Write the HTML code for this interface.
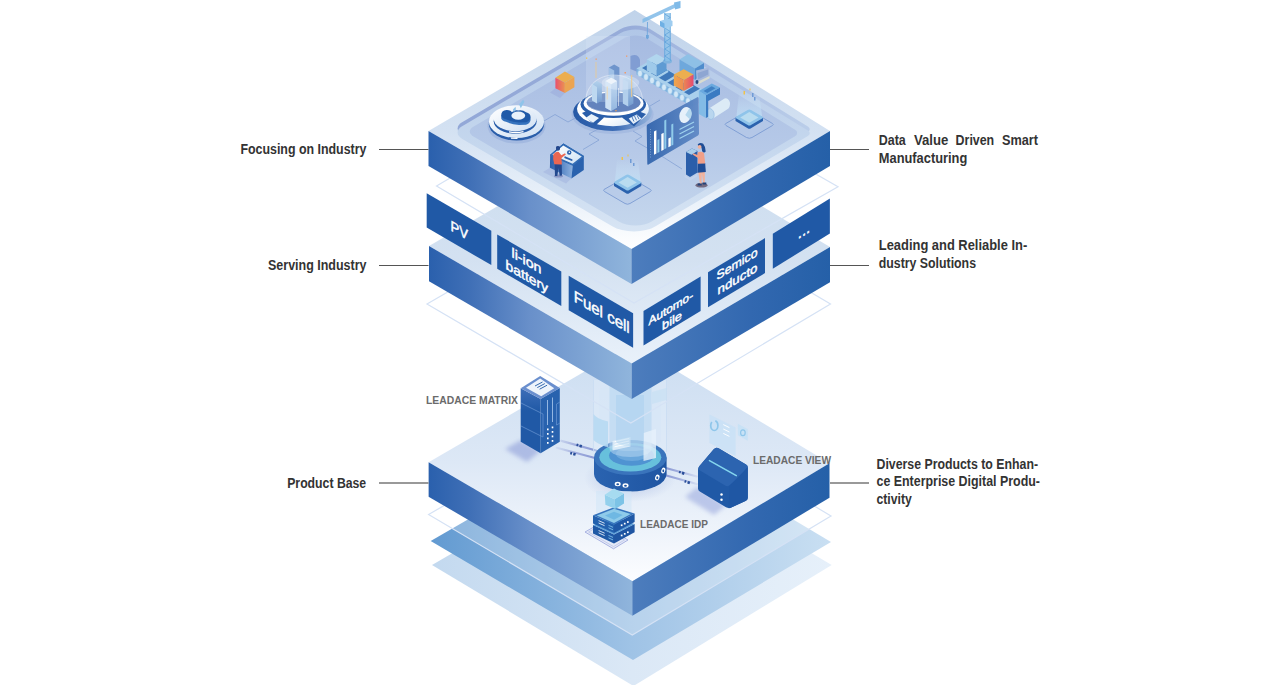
<!DOCTYPE html>
<html><head><meta charset="utf-8"><title>Industry Solutions</title>
<style>
html,body{margin:0;padding:0;background:#fff;}
body{width:1280px;height:685px;position:relative;overflow:hidden;font-family:"Liberation Sans",sans-serif;}
svg text{font-family:"Liberation Sans",sans-serif;font-weight:bold}
</style></head><body>
<svg width="1280" height="685" viewBox="0 0 1280 685" style="position:absolute;left:0;top:0">
<defs>
<linearGradient id="gL" x1="0" y1="0" x2="1" y2="0"><stop offset="0" stop-color="#2a60ad"/><stop offset=".2" stop-color="#3f6fb6"/><stop offset=".5" stop-color="#6990ca"/><stop offset="1" stop-color="#90b5dc"/></linearGradient>
<linearGradient id="gR" x1="0" y1="0" x2="1" y2="0"><stop offset="0" stop-color="#4d7dbd"/><stop offset=".6" stop-color="#3268b0"/><stop offset="1" stop-color="#2560a8"/></linearGradient>
<linearGradient id="gTop1" x1="0" y1="0" x2="0" y2="1"><stop offset="0" stop-color="#c0d3ea"/><stop offset=".5" stop-color="#d3e1f2"/><stop offset=".78" stop-color="#e8f0f9"/><stop offset="1" stop-color="#ffffff"/></linearGradient>
<linearGradient id="gLip" gradientUnits="userSpaceOnUse" x1="0" y1="25" x2="0" y2="235"><stop offset="0" stop-color="#b0c6e7"/><stop offset=".6" stop-color="#c6d8ee"/><stop offset="1" stop-color="#d8e5f4"/></linearGradient>
<linearGradient id="gBand" gradientUnits="userSpaceOnUse" x1="440" y1="0" x2="820" y2="0"><stop offset="0" stop-color="#92a7d7"/><stop offset=".5" stop-color="#97acd9"/><stop offset=".7" stop-color="#a9bde3"/><stop offset="1" stop-color="#bccfea"/></linearGradient>
<linearGradient id="gFloor" gradientUnits="userSpaceOnUse" x1="0" y1="35" x2="0" y2="228"><stop offset="0" stop-color="#a6bbe1"/><stop offset=".6" stop-color="#b6c9e8"/><stop offset="1" stop-color="#c5d7ed"/></linearGradient>
<linearGradient id="gMid" gradientUnits="userSpaceOnUse" x1="0" y1="190" x2="0" y2="364"><stop offset="0" stop-color="#cfdff0"/><stop offset=".4" stop-color="#d3e1f1"/><stop offset="1" stop-color="#e9f1fa"/></linearGradient>
<linearGradient id="gBase" x1="0" y1="0" x2="0" y2="1"><stop offset="0" stop-color="#cbddf1"/><stop offset=".5" stop-color="#dde8f6"/><stop offset=".8" stop-color="#eff4fb"/><stop offset="1" stop-color="#fcfdff"/></linearGradient>
<linearGradient id="gD1" x1="0" y1="0" x2="1" y2="0"><stop offset="0" stop-color="#629ad1"/><stop offset=".5" stop-color="#9fc3e6"/><stop offset="1" stop-color="#c9dff2"/></linearGradient>
<linearGradient id="gD2" x1="0" y1="0" x2="1" y2="0"><stop offset="0" stop-color="#c3d9ef"/><stop offset=".5" stop-color="#dbe8f6"/><stop offset="1" stop-color="#e6f0fa"/></linearGradient>
</defs>

<g id="stack">
<polygon points="432.0,565.0 634.0,448.0 831.7,565.0 633.5,686.0" fill="url(#gD2)"/>
<polygon points="430.7,541.0 633.0,424.0 831.0,542.0 633.0,660.0" fill="url(#gD1)"/>
<polygon points="428.6,514.5 632.0,397.0 831.0,516.0 632.3,635.0" fill="#ffffff" fill-opacity=".25" stroke="#d5e2f5" stroke-width="1.2"/>
</g>
<g id="base">
<polygon points="428.6,462.2 632.0,344.0 829.5,463.2 632.4,581.3" fill="url(#gBase)"/>
<polygon points="428.6,462.2 632.4,581.3 632.4,615.8 428.6,496.7" fill="url(#gL)"/><polygon points="632.4,581.3 829.5,463.2 829.5,497.7 632.4,615.8" fill="url(#gR)"/>
<defs>
<linearGradient id="twrL" x1="0" y1="0" x2="1" y2="0"><stop offset="0" stop-color="#245aa8"/><stop offset="1" stop-color="#2f66b2"/></linearGradient>
<linearGradient id="glass" x1="0" y1="0" x2="0" y2="1"><stop offset="0" stop-color="#bcd9f2" stop-opacity=".55"/><stop offset="1" stop-color="#cfe6f8" stop-opacity=".75"/></linearGradient>
<radialGradient id="shadow"><stop offset="0" stop-color="#8fa3d8" stop-opacity=".55"/><stop offset="1" stop-color="#8fa3d8" stop-opacity="0"/></radialGradient>
<linearGradient id="hubS" x1="0" y1="0" x2="1" y2="0"><stop offset="0" stop-color="#2a63b0"/><stop offset="1" stop-color="#1f55a2"/></linearGradient>
<filter id="blur2" x="-30%" y="-30%" width="160%" height="160%"><feGaussianBlur stdDeviation="2.2"/></filter>
<linearGradient id="twrF" x1="0" y1="0" x2="0" y2="1"><stop offset="0" stop-color="#3d6eb8"/><stop offset=".35" stop-color="#2059a6"/><stop offset="1" stop-color="#2059a6"/></linearGradient>
<linearGradient id="cab1" gradientUnits="userSpaceOnUse" x1="556" y1="0" x2="596" y2="0"><stop offset="0" stop-color="#9aa6dc" stop-opacity=".15"/><stop offset=".5" stop-color="#8b98d4" stop-opacity=".75"/><stop offset="1" stop-color="#7f8fd0" stop-opacity=".9"/></linearGradient><linearGradient id="cab2" gradientUnits="userSpaceOnUse" x1="664" y1="0" x2="697" y2="0"><stop offset="0" stop-color="#7f8fd0" stop-opacity=".9"/><stop offset=".5" stop-color="#8b98d4" stop-opacity=".7"/><stop offset="1" stop-color="#9aa6dc" stop-opacity=".2"/></linearGradient>
</defs>
<!-- shadows -->
<polygon points="521,440 540.5,451 527,462 505,449" fill="#8f9fd8" fill-opacity=".6" filter="url(#blur2)"/>
<ellipse cx="630" cy="478" rx="46" ry="24" fill="url(#shadow)"/>
<polygon points="697,487 726,505.5 714,515 685,497" fill="#98a6dc" fill-opacity=".55" filter="url(#blur2)"/>
<!-- cables -->
<g stroke-width="2.2" fill="none" stroke-linecap="round">
<line x1="561.3" y1="440.9" x2="596" y2="450.5" stroke="url(#cab1)"/><line x1="556.7" y1="447.8" x2="594" y2="457.8" stroke="url(#cab1)"/>
<line x1="664" y1="467.5" x2="697" y2="476.5" stroke="url(#cab2)"/><line x1="664.5" y1="475" x2="697" y2="484" stroke="url(#cab2)"/>
</g>
<g fill="#2a4f9a"><rect x="576.5" y="443.8" width="1.8" height="2.4" transform="rotate(15 577.5 445)"/><rect x="579.5" y="444.6" width="2.4" height="2.8" transform="rotate(15 580.5 446)"/><rect x="570.3" y="452" width="1.8" height="2.4" transform="rotate(15 571 453)"/><rect x="573.3" y="452.8" width="2.4" height="2.8" transform="rotate(15 574.5 454)"/><rect x="679" y="471" width="1.8" height="2.4" transform="rotate(15 680 472)"/><rect x="682" y="471.8" width="2.4" height="2.8" transform="rotate(15 683 473)"/><rect x="684.5" y="480.3" width="1.8" height="2.4" transform="rotate(15 685.5 481.5)"/><rect x="687.5" y="481.1" width="2.4" height="2.8" transform="rotate(15 688.5 482.5)"/></g>
<!-- tower -->
<g id="tower">
<polygon points="520.7,388.3 540.6,399 540.6,453.2 520.7,441.7" fill="url(#twrF)"/>
<polygon points="540.6,399 559.8,388 559.8,441.7 540.6,453.2" fill="#2862ae"/>
<polygon points="540.2,376 559.8,388 540.6,399 520.7,388.3" fill="#6a8fce"/>
<polygon points="540.2,378.6 554.2,388.2 541.2,396.3 526,387.7" fill="#eef4fb"/>
<g stroke="#2059a6" stroke-width=".9"><line x1="535" y1="386" x2="542.5" y2="382"/><line x1="537.3" y1="387.6" x2="544.8" y2="383.6"/><line x1="539.6" y1="389.2" x2="547.1" y2="385.2"/></g>
<polyline points="521,403 543,414 543,437 521,426" fill="none" stroke="#6a96d2" stroke-width=".7"/>
<g stroke="#9fc0e8" stroke-width=".9"><line x1="547.5" y1="400" x2="547.5" y2="425"/><line x1="552.5" y1="397.5" x2="552.5" y2="422"/></g>
<polyline points="560,402 556.5,404 556.5,425 560,423" fill="none" stroke="#6a96d2" stroke-width=".7"/>
<g fill="#ffffff"><rect x="547" y="428.5" width="1.6" height="1.8"/><rect x="547" y="433" width="1.6" height="1.8"/><rect x="547" y="437.5" width="1.6" height="1.8"/><rect x="547" y="442" width="1.6" height="1.8"/><rect x="551.7" y="426.5" width="1.6" height="1.8"/><rect x="551.7" y="431" width="1.6" height="1.8"/><rect x="551.7" y="435.5" width="1.6" height="1.8"/><rect x="551.7" y="440" width="1.6" height="1.8"/></g>
</g>
<!-- hub -->
<g id="bhub">
<path d="M593.5 380 L593.5 452 A36.5 14 0 0 0 666.5 452 L666.5 380 Z" fill="#e3eefa" fill-opacity=".42"/>
<path d="M593.5 380 L593.5 452 M666.5 380 L666.5 452" stroke="#c9dcf2" stroke-width=".8" fill="none"/>
<path d="M594 457.5 L594 474 A36.3 17.5 0 0 0 666.6 474 L666.6 457.5 Z" fill="url(#hubS)"/>
<ellipse cx="630.3" cy="457.5" rx="36.3" ry="17.5" fill="#3a74bc"/>
<ellipse cx="630.3" cy="457.2" rx="31" ry="14.3" fill="#67c0dc"/>
<ellipse cx="631.5" cy="455.5" rx="22.5" ry="10.3" fill="#4f93d2"/>
<ellipse cx="632" cy="454" rx="16" ry="7" fill="#6aa7dc"/>
<g fill="#fff"><ellipse cx="617.7" cy="484" rx="3" ry="2.2"/><ellipse cx="625.5" cy="485.5" rx="3" ry="2.2"/><ellipse cx="657.3" cy="477.5" rx="2.1" ry="3" transform="rotate(20 657.3 477.5)"/><ellipse cx="663.3" cy="470.5" rx="1.9" ry="3" transform="rotate(20 663.3 470.5)"/></g>
<g fill="#1f55a2"><ellipse cx="617.7" cy="484.2" rx="1.4" ry="1"/><ellipse cx="625.5" cy="485.7" rx="1.4" ry="1"/><ellipse cx="657.3" cy="477.7" rx="1" ry="1.5"/><ellipse cx="663.3" cy="470.7" rx=".9" ry="1.5"/></g>
<!-- glass column inner -->
<path d="M599 392 A31 9 0 0 1 661 392 L661 440 A31 11 0 0 1 599 440 Z" fill="#d3e6f7" fill-opacity=".35"/>
<path d="M609.5 380 L609.5 449 A21 8 0 0 0 651.5 449 L651.5 380 Z" fill="#b5d5f0" fill-opacity=".55"/>
<path d="M593.5 414 A36.5 12 0 0 0 608 421.5 L608 447 A36.5 14 0 0 1 593.5 440 Z" fill="#b4d8f2" fill-opacity=".85"/>
<path d="M643.5 433 L656 429 L656 458 L643.5 461 Z" fill="#e6f1fb" fill-opacity=".8"/>
<path d="M652 392 L666.5 388 L666.5 400 L652 404 Z" fill="#c5dff4" fill-opacity=".6"/>
<path d="M612.5 441 L630.5 437 L630.5 446.5 L612.5 450.5 Z" fill="#e6f2fb" fill-opacity=".8"/>
<g stroke="#ffffff" stroke-width="1" stroke-opacity=".9"><line x1="614.5" y1="441.8" x2="629" y2="438.5"/><line x1="614.5" y1="444.3" x2="629" y2="441"/><line x1="614.5" y1="446.8" x2="629" y2="443.5"/></g>
<path d="M616 395 L616 441 A14 5 0 0 0 644 441 L644 395 Z" fill="#a3cdee" fill-opacity=".4"/>
</g>
<!-- view box -->
<g id="view">
<polygon points="709.5,414.6 735.6,427.6 735.6,456 709.5,443" fill="#c3e0f6" fill-opacity=".6"/>
<polygon points="737.9,423.8 747.8,429.2 747.8,440.7 737.9,435.3" fill="#c3e0f6" fill-opacity=".75"/>
<ellipse cx="742.9" cy="432.7" rx="2.3" ry="2.9" fill="none" stroke="#8fc6ea" stroke-width="1.2"/>
<ellipse cx="714.3" cy="425.5" rx="3.6" ry="5" fill="none" stroke="#8fc6ea" stroke-width="1.7" stroke-dasharray="17 4"/>
<g stroke="#ffffff" stroke-width="1" stroke-opacity=".9"><line x1="723.3" y1="424.6" x2="729.4" y2="427.6"/><line x1="723.3" y1="429" x2="729.4" y2="432"/><line x1="723.3" y1="433.4" x2="729.4" y2="436.4"/></g>
<path d="M699.5 466 Q698 467.6 698 470 L698 488.5 Q698 490.5 699.8 491.5 L726 507.3 Q728.7 508.8 731.3 507.5 L746 500.7 Q747.8 499.7 747.8 497.7 L747.8 467.5 Q747.8 465.5 746 464.5 L719 448.5 Q716 446.7 713.7 449.3 Z" fill="#2059a6"/>
<path d="M699.5 466 L713.7 449.3 Q716 446.7 719 448.5 L746 464.5 Q747.6 465.4 747.8 467 Q738 478 729.5 485.5 Q727.5 486.8 725.5 485.8 L698.3 469.5 Q698.5 467.3 699.5 466 Z" fill="#2c64b0"/>
<path d="M729.5 485.5 Q738 478 747.8 467 L747.8 497.7 Q747.8 499.7 746 500.7 L731.3 507.5 Q729.8 508.3 728.7 508.2 Z" fill="#1f57a4"/>
<line x1="709.5" y1="460.6" x2="736.3" y2="475.6" stroke="#84d6ee" stroke-width="1.6" stroke-linecap="round"/>
<circle cx="721.5" cy="494.6" r="1.250" fill="#fff"/><circle cx="721.5" cy="499.7" r="1.250" fill="#fff"/>
</g>
<!-- IDP -->
<g id="idp">
<polygon points="585,532 600,523.5 628,540 613.5,548.8" fill="#e4e9f7" stroke="#98a3dc" stroke-width=".8" stroke-linejoin="round"/>
<polygon points="588.5,532 600,525.5 624.5,540 613.5,546.6" fill="none" stroke="#aeb7e3" stroke-width=".6"/>
<rect x="596" y="491" width="35.5" height="22" fill="#cfe6f8" fill-opacity=".5"/>
<polygon points="593,525 614,534.5 614,543.4 593,533.5" fill="#2059a6"/>
<polygon points="614,534.5 634.6,524 634.6,532.2 614,543.4" fill="#1f55a2"/>
<polygon points="614,517 593,525 614,534.5 634.6,524" fill="#5fa0d8"/>
<polygon points="593,515.3 614,524.6 614,532.9 593,523.4" fill="#2361ae"/>
<polygon points="614,524.6 634.6,513.6 634.6,522 614,532.9" fill="#1f58a6"/>
<polygon points="614,507.2 593,515.3 614,524.6 634.6,513.6" fill="#3674bd"/>
<polygon points="614,508.8 596.8,515.4 614,522.9 630.8,514" fill="#8fcbea"/>
<polygon points="614,511.8 605,515.6 614,519.8 622.8,515" fill="#6fb8e3"/>
<polygon points="604.8,494.8 614.5,499.2 615.4,509 605.4,504.7" fill="#93d0ec"/>
<polygon points="614.5,499.2 624,493.6 624,503.5 615.4,509" fill="#7cc3e6"/>
<polygon points="614,488.6 624,493.6 614.5,499.2 604.8,494.8" fill="#a6dbf0"/>
<g stroke="#ffffff" stroke-width=".9" stroke-opacity=".9"><line x1="598.6" y1="520.6" x2="604.6" y2="523.3"/><line x1="598.6" y1="523" x2="604.6" y2="525.7"/><line x1="598.6" y1="530.5" x2="604.6" y2="533.2"/><line x1="598.6" y1="532.9" x2="604.6" y2="535.6"/></g>
<g stroke="#7fbde8" stroke-width=".9"><line x1="608.5" y1="525.3" x2="613" y2="527.3"/><line x1="608.5" y1="527.8" x2="613" y2="529.8"/><line x1="608.5" y1="535.4" x2="613" y2="537.4"/><line x1="608.5" y1="537.9" x2="613" y2="539.9"/></g>
<g fill="#fff"><rect x="620.8" y="524.4" width="1.7" height="1.7"/><rect x="623.9" y="522.8" width="1.7" height="1.7"/><rect x="627" y="521.2" width="1.7" height="1.7"/><rect x="620.8" y="534.6" width="1.7" height="1.7"/><rect x="623.9" y="533" width="1.7" height="1.7"/><rect x="627" y="531.4" width="1.7" height="1.7"/></g>
</g>

</g>
<polygon points="427.0,304.0 631.0,186.0 830.5,304.0 630.8,423.0" fill="none" stroke="#d5e2f5" stroke-width="1.2"/>
<g id="mid">
<polygon points="429.0,246.0 632.0,128.0 830.0,247.0 631.7,363.6" fill="url(#gMid)"/>
<polygon points="429.0,246.0 631.7,363.6 631.7,398.9 429.0,281.3" fill="url(#gL)"/><polygon points="631.7,363.6 830.0,247.0 830.0,282.3 631.7,398.9" fill="url(#gR)"/>
<polygon points="426.7,193.3 491.3,230.8 491.3,265.1 426.7,227.6" fill="#2059a6"/>
<polygon points="497.2,234.4 561.3,271.6 561.3,305.9 497.2,268.7" fill="#2059a6"/>
<polygon points="568.7,275.7 633.1,313.2 633.1,347.8 568.7,310.3" fill="#2059a6"/>
<polygon points="643.5,311.0 700.6,276.4 700.6,311.0 643.5,345.6" fill="#2059a6"/>
<polygon points="708.0,272.3 765.0,238.1 765.0,273.1 708.0,307.3" fill="#2059a6"/>
<polygon points="772.8,233.7 829.9,198.5 829.9,233.5 772.8,268.7" fill="#2059a6"/>
<g id="ptxt" fill="#ffffff" stroke="#ffffff" stroke-width=".45" text-anchor="middle" style="font-weight:normal">
<text transform="matrix(1,.58,0,1,459.3,235.3)" font-size="14.5" style="font-weight:normal" textLength="17.5" lengthAdjust="spacingAndGlyphs">PV</text>
<text transform="matrix(1,.58,0,1,526.5,265.5)" font-size="13.5" style="font-weight:normal" textLength="30" lengthAdjust="spacingAndGlyphs">li-ion</text>
<text transform="matrix(1,.58,0,1,526.8,281)" font-size="13.5" style="font-weight:normal" textLength="42.5" lengthAdjust="spacingAndGlyphs">battery</text>
<text transform="matrix(1,.58,0,1,601.7,317.5)" font-size="16" style="font-weight:normal" textLength="56" lengthAdjust="spacingAndGlyphs">Fuel cell</text>
<text transform="matrix(1,-.605,0,1,670.8,312)" font-size="11.5" style="font-weight:normal" textLength="44.5" lengthAdjust="spacingAndGlyphs">Automo-</text>
<text transform="matrix(1,-.605,0,1,672,324.5)" font-size="11.5" style="font-weight:normal" textLength="20" lengthAdjust="spacingAndGlyphs">bile</text>
<text transform="matrix(1,-.605,0,1,737,268)" font-size="12.5" style="font-weight:normal" textLength="41" lengthAdjust="spacingAndGlyphs">Semico</text>
<text transform="matrix(1,-.605,0,1,737.5,283)" font-size="12.5" style="font-weight:normal" textLength="40" lengthAdjust="spacingAndGlyphs">nducto</text>
<text transform="matrix(1,-.605,0,1,804,235.5)" font-size="15" style="font-weight:normal" textLength="12.5" lengthAdjust="spacingAndGlyphs">...</text>
</g>

</g>
<polygon points="436.5,186.0 634.0,70.0 838.0,186.7 634.0,303.0" fill="none" stroke="#d5e2f5" stroke-width="1.2"/>
<g id="top">
<polygon points="428.5,131.0 634.7,10.0 830.0,131.0 631.5,249.0" fill="url(#gTop1)"/>
<polygon points="428.5,131.0 631.5,249.0 631.5,284.0 428.5,166.0" fill="url(#gL)"/><polygon points="631.5,249.0 830.0,131.0 830.0,166.0 631.5,284.0" fill="url(#gR)"/>
<polygon points="620.7,29.1 623.9,27.5 627.5,26.4 631.4,25.7 635.5,25.4 639.5,25.7 643.4,26.4 646.9,27.5 650.0,29.1 807.9,126.6 808.7,127.2 809.2,127.8 809.6,128.5 809.7,129.2 809.6,130.0 809.2,130.7 808.6,131.3 807.9,131.9 656.0,222.1 651.3,224.4 645.9,226.1 640.1,227.1 634.0,227.5 627.9,227.1 622.0,226.1 616.6,224.4 611.8,222.1 461.9,134.7 460.1,133.3 458.7,131.8 457.9,130.2 457.6,128.5 457.9,126.8 458.8,125.1 460.2,123.6 462.1,122.2" fill="url(#gBand)"/>
<polygon points="620.7,33.1 623.9,31.5 627.5,30.4 631.4,29.7 635.5,29.4 639.5,29.7 643.4,30.4 646.9,31.5 650.0,33.1 807.9,130.6 808.7,131.2 809.2,131.8 809.6,132.5 809.7,133.2 809.6,134.0 809.2,134.7 808.6,135.3 807.9,135.9 656.0,226.1 651.3,228.4 645.9,230.1 640.1,231.1 634.0,231.5 627.9,231.1 622.0,230.1 616.6,228.4 611.8,226.1 461.9,138.7 460.1,137.3 458.7,135.8 457.9,134.2 457.6,132.5 457.9,130.8 458.8,129.1 460.2,127.6 462.1,126.2" fill="url(#gLip)"/>
<polygon points="623.7,38.4 626.2,37.2 629.1,36.2 632.2,35.7 635.4,35.5 638.6,35.7 641.7,36.2 644.5,37.2 647.0,38.4 794.7,129.4 795.7,130.2 796.5,131.1 797.0,132.1 797.1,133.0 796.9,134.0 796.5,135.0 795.7,135.8 794.6,136.6 651.7,221.5 648.2,223.2 644.2,224.4 639.9,225.2 635.3,225.5 630.8,225.2 626.4,224.4 622.4,223.2 618.8,221.5 473.1,136.3 471.7,135.3 470.7,134.1 470.0,132.9 469.8,131.6 470.1,130.2 470.7,129.0 471.8,127.8 473.3,126.8" fill="url(#gFloor)"/>
<defs>
<linearGradient id="oL" x1="0" y1="0" x2="1" y2="0"><stop offset="0" stop-color="#e8506e"/><stop offset="1" stop-color="#eb9350"/></linearGradient>
<linearGradient id="oR" x1="0" y1="0" x2="1" y2="0"><stop offset="0" stop-color="#eb9a4e"/><stop offset="1" stop-color="#e9605f"/></linearGradient>
<linearGradient id="hubBase" x1="0" y1="0" x2="1" y2="0"><stop offset="0" stop-color="#2659a6"/><stop offset=".55" stop-color="#3d6db6"/><stop offset="1" stop-color="#9ab7de"/></linearGradient>
<linearGradient id="tw" x1="0" y1="0" x2="0" y2="1"><stop offset="0" stop-color="#c3daf2"/><stop offset="1" stop-color="#84abdb"/></linearGradient>
<linearGradient id="tw2" x1="0" y1="0" x2="0" y2="1"><stop offset="0" stop-color="#a9cbea"/><stop offset="1" stop-color="#5f8cc8"/></linearGradient>
<linearGradient id="dash" x1="0" y1="0" x2="1" y2="0"><stop offset="0" stop-color="#2f62ab"/><stop offset="1" stop-color="#5e88c5"/></linearGradient>
<linearGradient id="discT" x1="0" y1="0" x2="1" y2="1"><stop offset="0" stop-color="#ffffff"/><stop offset="1" stop-color="#cfe0f3"/></linearGradient>
<linearGradient id="beam" x1="0" y1="0" x2="0" y2="1"><stop offset="0" stop-color="#d6ebfa" stop-opacity="0"/><stop offset="1" stop-color="#bfe0f6" stop-opacity=".85"/></linearGradient>
<linearGradient id="ringW" x1="0" y1="0" x2="1" y2="1"><stop offset="0" stop-color="#ffffff"/><stop offset=".6" stop-color="#ffffff"/><stop offset="1" stop-color="#c6dbf1"/></linearGradient>
<linearGradient id="oC1" x1="0" y1="0" x2="1" y2="0"><stop offset="0" stop-color="#eea64c"/><stop offset="1" stop-color="#ee8c52"/></linearGradient><linearGradient id="oC2" x1="0" y1="0" x2="1" y2="0"><stop offset="0" stop-color="#ec8654"/><stop offset="1" stop-color="#e44a70"/></linearGradient>
<linearGradient id="deskF" x1="0" y1="0" x2="1" y2="0"><stop offset="0" stop-color="#2a5eaa"/><stop offset=".4" stop-color="#4a7bbf"/><stop offset="1" stop-color="#8fb2df"/></linearGradient><linearGradient id="deskS" x1="0" y1="0" x2="1" y2="1"><stop offset="0" stop-color="#ffffff"/><stop offset="1" stop-color="#cfe2f4"/></linearGradient>
</defs>
<!-- circuit lines -->
<g fill="none" stroke="#7f9dd2" stroke-width=".8" stroke-opacity=".9">
<path d="M544 121 L555 114.5 L568 122 L581 115"/>
<path d="M598 129 L589 134 L599 140 L583 149.5"/>
<path d="M633 131 L642 136.5 L635 141 L663 157 L682 169"/>
<path d="M660 100 L645 109 L640 106"/>
</g>
<!-- chip pads -->
<g id="chipC">
<path d="M604 189.5 Q603 190.5 604.5 191.5 L625 203.5 Q627.6 205 630 203.5 L650.5 191.5 Q652 190.5 650.5 189.5 L630 177.5 Q627.6 176 625 177.5 Z" fill="#b4c8e8" fill-opacity=".5" stroke="#7b9bd3" stroke-width=".9"/>
<polygon points="617,159 638,159 640.5,181 615,181" fill="url(#beam)" opacity=".8"/>
<path d="M614 182.5 L614 186 L626 193.2 Q627.6 194.2 629.2 193.2 L641.3 186 L641.3 182.5 Z" fill="#2a62ae"/>
<path d="M614.5 181.7 Q613.3 182.4 614.5 183.2 L626 190 Q627.6 191 629.2 190 L640.8 183.2 Q642 182.4 640.8 181.7 L629.2 174.9 Q627.6 174 626 174.9 Z" fill="#8fc4ea"/>
<path d="M618.5 182.4 L627.6 187.7 L636.8 182.4 L627.6 177.1 Z" fill="#b9dcf0"/>
<rect x="621.5" y="157" width="1.5" height="3" fill="#f0c24a"/><rect x="627.5" y="154.5" width="1" height="2" fill="#f0c24a"/><rect x="630" y="159" width="1.5" height="4" fill="#6f9bd6"/><rect x="633" y="163" width="1.5" height="3" fill="#6f9bd6"/>
</g>
<g id="chipR">
<path d="M725.5 123.7 Q724.5 124.5 726 125.5 L746.5 137.5 Q749.5 139 752 137.5 L772.5 125.5 Q774 124.5 772.5 123.5 L752 111.5 Q749.5 110 746.5 111.5 Z" fill="#b4c8e8" fill-opacity=".5" stroke="#7b9bd3" stroke-width=".9"/>
<polygon points="739,93 759,93 762,116 736.5,116" fill="url(#beam)" opacity=".8"/>
<path d="M735.5 117.5 L735.5 121 L747.7 128.2 Q749.3 129.2 751 128.2 L763 121 L763 117.5 Z" fill="#2a62ae"/>
<path d="M736 116.7 Q734.8 117.4 736 118.2 L747.7 125 Q749.3 126 751 125 L762.6 118.2 Q763.8 117.4 762.6 116.7 L751 109.9 Q749.3 109 747.7 109.9 Z" fill="#8fc4ea"/>
<path d="M740.2 117.4 L749.3 122.7 L758.5 117.4 L749.3 112.1 Z" fill="#b9dcf0"/>
<rect x="743.5" y="91" width="1.5" height="3.5" fill="#f0c24a"/><rect x="749.5" y="88.5" width="1" height="2" fill="#f0c24a"/><rect x="752" y="93" width="1.5" height="4" fill="#6f9bd6"/><rect x="754" y="97" width="1.5" height="3.5" fill="#6f9bd6"/>
</g>
<!-- cloud disc -->
<g id="cloud">
<ellipse cx="516.5" cy="126" rx="29" ry="17.5" fill="#8da6d6" fill-opacity=".45"/>
<ellipse cx="516.5" cy="124.3" rx="27.6" ry="16.3" fill="#2a5eaa"/>
<ellipse cx="516.5" cy="121.6" rx="27.6" ry="16.3" fill="url(#discT)"/>
<ellipse cx="515.2" cy="121.2" rx="21.5" ry="12.6" fill="#2a5eaa"/>
<ellipse cx="515.2" cy="118.6" rx="21.5" ry="12.6" fill="url(#discT)"/>
<path d="M501.2 118.2 Q501 113 506.5 112.5 Q510.5 112.3 512 114.8 Q514 112 518.5 113 Q523 112.3 526 114.8 Q530.8 116 530.6 120 Q530 123.5 526 124.8 L519 125 Q512 124.5 506 121.8 Q501.5 120.5 501.2 118.2 Z" fill="#3573be"/>
<path d="M501.2 115.7 Q501 110.5 506.5 110 Q510.5 109.8 512 112.3 Q514 109.5 518.5 110.5 Q523 109.8 526 112.3 Q530.8 113.5 530.6 117.5 Q530 121 526 122.3 L519 122.5 Q512 122 506 119.3 Q501.5 118 501.2 115.7 Z" fill="#1f5aa8"/>
<ellipse cx="518.3" cy="115.7" rx="6.9" ry="4.1" fill="#e8f2fb"/>
<polygon points="519.1,104.3 523.2,99.4 524.4,101.8 520.8,108.3" fill="#8fc4ea"/><polygon points="513,109.6 515.5,106.7 515.9,109.2 513.8,112.4" fill="#8fc4ea"/>
<path d="M509 131.8 Q516 133.3 523.5 131.6" fill="none" stroke="#fff" stroke-width="1.3"/>
<path d="M511 138.2 L517.5 138.4" fill="none" stroke="#fff" stroke-width="1.2"/>
</g>
<!-- orange cube left -->
<g id="cube1">
<polygon points="555.4,88.2 564.9,93 560,98 550,92.5" fill="#8f9fd8" fill-opacity=".35"/>
<polygon points="564.9,71.6 574.4,77 564.9,82.4 555.4,77.7" fill="#ecae4f"/>
<polygon points="555.4,77.7 564.9,82.4 564.9,93 555.4,88.2" fill="url(#oL)"/>
<polygon points="564.9,82.4 574.4,77 574.4,87.2 564.9,93" fill="#eba452"/>
</g>
<!-- center hub -->
<g id="hub">
<ellipse cx="612.6" cy="114.5" rx="41" ry="19.5" fill="#8da6d6" fill-opacity=".35"/>
<ellipse cx="612.6" cy="112" rx="39.5" ry="18.9" fill="url(#hubBase)"/>
<ellipse cx="613" cy="108.7" rx="36" ry="17.5" fill="url(#ringW)"/>
<polygon points="582,113 591,109 604,117.5 595,126" fill="#2a5eaa"/><polygon points="622,117.5 634,109.5 646,114 634,126.5" fill="#2a5eaa"/>
<ellipse cx="613.3" cy="104.5" rx="32.8" ry="13.5" fill="#2a5eaa"/>
<ellipse cx="613.6" cy="103.4" rx="30" ry="12.3" fill="#ffffff"/>
<ellipse cx="613.6" cy="102.6" rx="27" ry="10" fill="#4a6eb2"/>
<polygon points="585.5,118 591.4,114 599,118 593.1,122.7" fill="#e8f1fa"/><polygon points="628.7,118.6 636.9,114.5 641.6,118.6 633.4,123.9" fill="#e8f1fa"/>
<g stroke="#2a5eaa" stroke-width=".8"><line x1="632" y1="117" x2="634" y2="121.5"/><line x1="634.5" y1="116" x2="636.5" y2="120.3"/><line x1="637" y1="115.2" x2="639" y2="119.2"/></g>
<!-- hologram box -->
<rect x="586" y="36" width="44" height="66" fill="#e4effa" fill-opacity=".22"/>
<path d="M630.5 56 Q638 53 640 60 L640 73 L630.5 69 Z" fill="#5f82c6" fill-opacity=".55"/>
<!-- towers -->
<polygon points="608.9,67.5 614.2,64.5 619.4,67.5 619.4,96 608.9,96" fill="#6f95cc"/><polygon points="608.9,67.5 614.2,70.5 614.2,96 608.9,96" fill="#9fc0e6"/>
<polygon points="592,84 597,81 601.9,84 601.9,100.5 597,103.5 592,100.5" fill="url(#tw2)"/><polygon points="592,84 597,87 597,103.5 592,100.5" fill="#b5d3ef"/>
<polygon points="622.9,79 628.2,76 633.4,79 633.4,103.5 628.2,106.5 622.9,103.5" fill="url(#tw2)"/><polygon points="622.9,79 628.2,82 628.2,106.5 622.9,103.5" fill="#a9c9ea"/>
<polygon points="605.4,81 611.2,77.8 617,81 617,107.8 611.2,111 605.4,107.8" fill="url(#tw)"/><polygon points="605.4,81 611.2,84.2 611.2,111 605.4,107.8" fill="#c9ddf3"/>
<polygon points="605.4,81 611.2,77.8 617,81 611.2,84.2" fill="#f2f7fc"/>
<!-- glass dome -->
<path d="M585.5 102 C586 84 600 75 614 75 C628 75 642 84 642.7 101 A28.6 11 0 0 1 585.5 102 Z" fill="#e6f1fb" fill-opacity=".16" stroke="#ffffff" stroke-opacity=".55" stroke-width=".7"/>
<ellipse cx="620.5" cy="82.5" rx="18.7" ry="7.6" fill="#eaf3fc" fill-opacity=".38"/>
<rect x="595.5" y="62" width="1" height="16" fill="#f0c98a" opacity=".75"/><rect x="631" y="75" width="1.2" height="22" fill="#f0c98a" opacity=".8"/><rect x="606.7" y="86.5" width="1" height="13" fill="#f3d7a6" opacity=".8"/><rect x="618" y="88" width=".9" height="18" fill="#ffffff" opacity=".6"/>
<rect x="595.5" y="58.5" width="1.3" height="1.3" fill="#f09a6a"/><rect x="626" y="55.5" width="1.3" height="1.3" fill="#f09a6a"/><rect x="586" y="57.5" width="1.3" height="1.3" fill="#f0c24a"/><rect x="624.5" y="72" width="1.5" height="1.5" fill="#f09a6a"/><rect x="615.3" y="110" width="1.3" height="1.3" fill="#f0a24a"/>
</g>
<!-- conveyor -->
<g id="conv">
<polygon points="636,72 694,106 709,97 652,63" fill="#8da6d6" fill-opacity=".4"/>
<polygon points="636.5,68.5 693,101 693,107 636.5,74.5" fill="#7fb3df"/>
<polygon points="636.5,68.5 693,101 708,92.5 651,60" fill="#a9d0ec"/>
<polygon points="642,68 689,95 700,88.8 653,61.8" fill="#3f78ba"/>
<g stroke="#a9d0ec" stroke-width="2.2"><line x1="649" y1="73" x2="660" y2="66.5"/><line x1="657" y1="77.5" x2="668" y2="71"/><line x1="665.5" y1="82.5" x2="676.5" y2="76"/><line x1="674" y1="87" x2="685" y2="80.5"/><line x1="682" y1="92" x2="693" y2="85.5"/></g>
<g fill="#d4e8f6" stroke="#8fc0e6" stroke-width=".5">
<ellipse cx="640" cy="73.5" rx="2.3" ry="3.3"/><ellipse cx="646" cy="77" rx="2.3" ry="3.3"/><ellipse cx="652" cy="80.4" rx="2.3" ry="3.3"/><ellipse cx="658" cy="83.9" rx="2.3" ry="3.3"/><ellipse cx="664" cy="87.3" rx="2.3" ry="3.3"/><ellipse cx="670" cy="90.8" rx="2.3" ry="3.3"/><ellipse cx="676" cy="94.2" rx="2.3" ry="3.3"/><ellipse cx="682" cy="97.7" rx="2.3" ry="3.3"/><ellipse cx="688" cy="101.1" rx="2.3" ry="3.3"/>
</g>
<!-- light cube -->
<polygon points="656.5,54 666.5,59.5 656.8,65 646.8,59.5" fill="#b1d6ee"/>
<polygon points="646.8,59.5 656.8,65 656.8,76 646.8,70.5" fill="#9fcaea"/>
<polygon points="656.8,65 666.5,59.5 666.5,70.5 656.8,76" fill="#5f9bd3"/>
<!-- truck -->
<polygon points="688,54 704,63 695,68.5 679.5,59.5" fill="#8ec0e6"/>
<polygon points="679.5,59.5 695,68.5 695,80 679.5,71" fill="#6ea8dc"/>
<polygon points="695,68.5 704,63 704,72 695,80" fill="#4f8ccc"/>
<polygon points="696,70.5 709,67.5 709.5,77 697,84" fill="#a7b9dc"/><polygon points="697.5,73 708,69.5 708.2,74.5 698,79.5" fill="#8ea6d2"/>
<polygon points="697,82 709.5,76 709.7,78.3 698,84.5" fill="#d9dccf"/>
<ellipse cx="697" cy="82" rx="1.5" ry="2" fill="#25467e"/>
<!-- orange cube -->
<polygon points="683.7,69.2 693.5,74.5 683.7,80 673.8,74.5" fill="#ecae4f"/>
<polygon points="673.8,74.5 683.7,80 683.7,91.1 673.8,85.5" fill="url(#oC1)"/>
<polygon points="683.7,80 693.5,74.5 693.5,85.5 683.7,91.1" fill="url(#oC2)"/>
<!-- machine -->
<path d="M709 108.5 L724.5 98.5 A4.2 5.6 0 0 1 727 109.5 L711.5 119.5 Z" fill="#dcebf6"/>
<ellipse cx="710.3" cy="114" rx="3.8" ry="5.5" fill="#b9d6ee" stroke="#8fb9e2" stroke-width=".6" transform="rotate(-12 710.3 114)"/>
<polygon points="705.9,95.2 720,87.6 720,94.5 708.2,101 708.2,116.8 705.9,118" fill="#3a7bc2"/>
<polygon points="698.9,91.1 705.9,95.2 705.9,118 698.9,113.9" fill="#82bbe6"/>
<polygon points="698.9,91.1 711.8,83.5 720,87.6 705.9,95.2" fill="#6aa9df"/>
<polygon points="703.5,91 711.6,86.3 715.5,88.3 707.3,93" fill="#3f80c4"/>
</g>
<!-- crane -->
<g id="crane">
<ellipse cx="667.5" cy="61" rx="4.5" ry="2.6" fill="#7fb3df"/>
<rect x="664.7" y="13" width="5.6" height="48" fill="#8cc3ea" fill-opacity=".75"/>
<path d="M664.7 14 l5.6 3.5 l-5.6 3.5 l5.6 3.5 l-5.6 3.5 l5.6 3.5 l-5.6 3.5 l5.6 3.5 l-5.6 3.5 l5.6 3.5 l-5.6 3.5 l5.6 3.5 l-5.6 3.5 l5.6 3.5" fill="none" stroke="#5fa3dc" stroke-width=".8"/>
<path d="M664.7 13 V61 M670.3 13 V61" stroke="#5fa3dc" stroke-width=".8" fill="none"/>
<polygon points="642.5,19 642.5,23 680,5.5 680,1.5" fill="#7fbae8" fill-opacity=".85"/>
<polygon points="674,2.5 680.5,1 680.5,8 675,9.5" fill="#7fbae8"/>
<polygon points="660,21 668,18.5 672.5,21 672.5,26 664.5,28.5 660,26" fill="#9fcdf0"/><polygon points="660,21 664.5,23.5 664.5,28.5 660,26" fill="#6fb0e4"/>
<line x1="647.5" y1="22" x2="647.3" y2="36" stroke="#6fa6dc" stroke-width=".9"/><polygon points="646,35 648.8,35 648.8,38 647.3,39.2 646,38" fill="#6fa6dc"/>
</g>
<!-- dashboard -->
<g id="dashb">
<path d="M646.7 126.3 Q646.6 124.9 647.8 124.3 L697.2 97.2 Q698.4 96.6 698.5 98 L699 133.6 Q699 134.8 698 135.4 L648.5 164.5 Q647.3 165.2 647.3 163.8 Z" fill="url(#dash)" fill-opacity=".93"/>
<g fill="#ffffff"><polygon points="654,131.5 656.4,130.3 656.4,153.5 654,154.7"/><polygon points="661.3,134 663.7,132.8 663.7,149.7 661.3,150.9"/><polygon points="668.4,138.5 670.8,137.3 670.8,146 668.4,147.2"/></g>
<g fill="#8fcbea"><polygon points="657.4,140 659.4,139 659.4,152 657.4,153"/><polygon points="664.3,120.5 666.3,119.5 666.3,148.3 664.3,149.3"/><polygon points="671.3,124.5 673.3,123.5 673.3,144.7 671.3,145.7"/></g>
<ellipse cx="685.3" cy="115" rx="5.8" ry="8.2" fill="#e6f1fa" transform="rotate(18 685.3 115)"/><path d="M685.3 115 L689.5 108 A5.8 8.2 18 0 1 690 119.5 Z" fill="#b5d8ee"/>
<g stroke="#9fd2ee" stroke-width="1.2"><line x1="679.5" y1="129.5" x2="694" y2="122"/><line x1="679.5" y1="134" x2="694" y2="126.5"/><line x1="679.5" y1="138.5" x2="694" y2="131"/></g>
<line x1="650.5" y1="129" x2="650.5" y2="159" stroke="#8fb3de" stroke-width=".7" stroke-dasharray="1 1.5"/>
</g>
<!-- person left + desk -->
<g id="deskL">
<polygon points="549.9,167.8 571.4,178.4 566,183.5 543,172" fill="#8f9fd8" fill-opacity=".3"/>
<polygon points="550.2,155.1 572.8,165.3 571.4,178.4 549.9,167.8" fill="url(#deskF)"/>
<polygon points="572.8,165.3 583.8,156.2 583.8,170 571.4,178.4" fill="#2a62ae"/>
<path d="M563.4 143.8 L583.8 156.2 L572.8 165.3 L550.2 155.1 Z" fill="#2f6ab4" stroke="#2f6ab4" stroke-width="1" stroke-linejoin="round"/>
<path d="M563.3 145.6 L581.8 156.4 L572.6 163.8 L552.3 154.7 Z" fill="url(#deskS)"/>
<circle cx="569.2" cy="152.5" r="2.2" fill="#2a62ae"/><circle cx="569.4" cy="152.3" r=".8" fill="#fff"/>
<line x1="565.2" y1="157.3" x2="571.7" y2="160" stroke="#2a5eaa" stroke-width="1.8" stroke-linecap="round"/>
<ellipse cx="558.5" cy="176" rx="4.5" ry="1.6" fill="#5a5f9a" fill-opacity=".45"/>
<path d="M554.6 164 L561.7 164.2 L562 175.5 L559.7 175.7 L558.6 168 L557.3 176 L555 176 Z" fill="#23498f"/>
<path d="M553.3 154.5 Q555.3 151.3 558.8 152 L561.3 155.3 L565 153.2 L565.8 154.4 L561.5 158 L561.9 164.5 L554.3 164.3 Q552.6 159 553.3 154.5 Z" fill="#ea6651"/>
<path d="M556 146.7 Q558.5 145.3 560 147.3 L559.8 149.5 L556.3 149.8 Z" fill="#1f3f85"/>
<circle cx="558" cy="148.8" r="1.9" fill="#23498f"/>
</g>
<!-- kiosk + woman -->
<g id="kiosk">
<polygon points="686,152 692,148.5 697.5,151 697.5,172.5 690,177 686,174.5" fill="#2a5eaa"/>
<polygon points="686,152 692,148.5 697.5,151 691.5,154.7" fill="#a9cdea"/>
<polygon points="684.5,175 690,178.5 697,174.5 697,176.5 690,180.5 684.5,177" fill="#c6d6ee" fill-opacity=".7"/>
<ellipse cx="701.5" cy="185.2" rx="6" ry="2.4" fill="#5c4a5e" fill-opacity=".75"/>
<path d="M698.3 172 L700 184 L701.5 184 L701.8 173 L703.3 183 L704.8 183 L704.8 171.5 Z" fill="#f2b29c"/>
<path d="M697.8 183.5 L701.7 183.5 L701.7 185.5 L697.5 185.5 Z M702.7 182.5 L706.3 182.5 L706.3 184.5 L702.7 184.5 Z" fill="#23427a"/>
<path d="M697.8 163 L705.2 163 L705.8 172 L697.5 172.8 Z" fill="#1f4d96"/>
<path d="M697.7 152.5 Q701 150.8 704 153 L705.2 163.5 L697.8 163.8 L698 158 L692.5 154.5 L693.2 153.2 L697.5 155 Z" fill="#f09f88"/>
<path d="M697.8 144.2 Q700.5 141.8 703.2 143.8 Q705.8 147 705.7 151.5 Q704 153.5 702.2 151.2 L701.5 147.5 L698.5 148 Z" fill="#1f4d96"/>
<circle cx="699.6" cy="146.8" r="1.9" fill="#f2b29c"/>
</g>

</g>
<g id="labels" fill="#333" font-size="14">
<g stroke="#555" stroke-width="1">
<line x1="379" y1="149.5" x2="428.5" y2="149.5"/>
<line x1="379" y1="265.5" x2="428.5" y2="265.5"/>
<line x1="830" y1="149.5" x2="869" y2="149.5"/>
<line x1="830" y1="265.5" x2="869" y2="265.5"/>
</g>
<g stroke="#777" stroke-width="1.6">
<line x1="379" y1="483" x2="428.5" y2="483"/>
<line x1="830" y1="483" x2="869" y2="483"/>
</g>
<text x="240.4" y="154" textLength="126" lengthAdjust="spacingAndGlyphs">Focusing on Industry</text>
<text x="268" y="270" textLength="98.5" lengthAdjust="spacingAndGlyphs">Serving Industry</text>
<text x="287.2" y="487.6" textLength="79" lengthAdjust="spacingAndGlyphs">Product Base</text>
<text y="145.3"><tspan x="878.8" textLength="27" lengthAdjust="spacingAndGlyphs">Data</tspan> <tspan x="913.9" textLength="34.4" lengthAdjust="spacingAndGlyphs">Value</tspan> <tspan x="955.6" textLength="38.6" lengthAdjust="spacingAndGlyphs">Driven</tspan> <tspan x="1002" textLength="36" lengthAdjust="spacingAndGlyphs">Smart</tspan></text>
<text x="878.8" y="162.8" textLength="88.5" lengthAdjust="spacingAndGlyphs">Manufacturing</text>
<text x="878.8" y="250.4" textLength="148.4" lengthAdjust="spacingAndGlyphs">Leading and Reliable In-</text>
<text x="878.8" y="267.9" textLength="97.2" lengthAdjust="spacingAndGlyphs">dustry Solutions</text>
<text x="876.5" y="468.6" textLength="161.5" lengthAdjust="spacingAndGlyphs">Diverse Products to Enhan-</text>
<text x="876.5" y="486.2" textLength="163.5" lengthAdjust="spacingAndGlyphs">ce Enterprise Digital Produ-</text>
<text x="876.5" y="503.6" textLength="35.3" lengthAdjust="spacingAndGlyphs">ctivity</text>
<g fill="#6b6b6b" font-size="11.5">
<text x="426" y="403.5" textLength="92" lengthAdjust="spacingAndGlyphs">LEADACE MATRIX</text>
<text x="753" y="463.6" textLength="78" lengthAdjust="spacingAndGlyphs">LEADACE VIEW</text>
<text x="640" y="527.5" textLength="68" lengthAdjust="spacingAndGlyphs">LEADACE IDP</text>
</g>
</g>

</svg>
</body></html>
